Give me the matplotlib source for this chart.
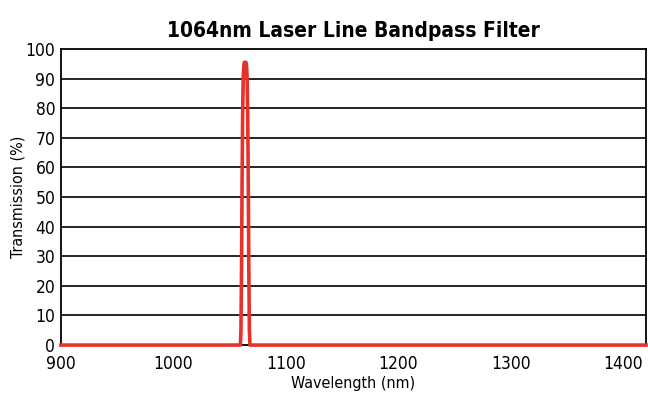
import matplotlib
matplotlib.use("Agg")
import matplotlib.pyplot as plt

# transmission curve
wavelength = [900, 1059.5, 1060, 1060.5, 1061, 1061.5, 1062, 1062.5, 1063, 1063.5,
              1064, 1064.5, 1065, 1065.5, 1066, 1066.5, 1067, 1067.5, 1068, 1420]
transmission = [0, 0, 5, 25, 55, 78, 90, 94, 95.5, 95.5,
                95.5, 95.5, 94, 90, 78, 55, 25, 5, 0, 0]

x_ticks = [900, 1000, 1100, 1200, 1300, 1400]
y_ticks = [0, 10, 20, 30, 40, 50, 60, 70, 80, 90, 100]

plt.rcParams['font.family'] = ['DejaVu Sans']
plt.rcParams['font.stretch'] = 'condensed'

fig = plt.figure(figsize=(6.48, 4.05), dpi=100)
ax = fig.add_axes([0.094, 0.148, 0.903, 0.731])

for y in y_ticks[1:-1]:
    ax.axhline(y, color='black', lw=1.2, zorder=1)

ax.plot(wavelength, transmission, color='#e8312a', lw=2.6, zorder=3,
        solid_joinstyle='round', clip_on=False)

ax.set_xlim(900, 1420)
ax.set_ylim(0, 100)
ax.set_xticks(x_ticks)
ax.set_yticks(y_ticks)
ax.tick_params(length=0, labelsize=12.5)
ax.tick_params(axis='x', pad=7)
ax.tick_params(axis='y', pad=4)
for s in ax.spines.values():
    s.set_linewidth(1.3)
    s.set_color('black')

ax.set_xlabel('Wavelength (nm)', fontsize=11.5, labelpad=2)
ax.set_ylabel('Transmission (%)', fontsize=11.5, labelpad=0)
ax.set_title('1064nm Laser Line Bandpass Filter', fontsize=15, fontweight='bold', pad=9)

fig.savefig('out.png', dpi=100)
